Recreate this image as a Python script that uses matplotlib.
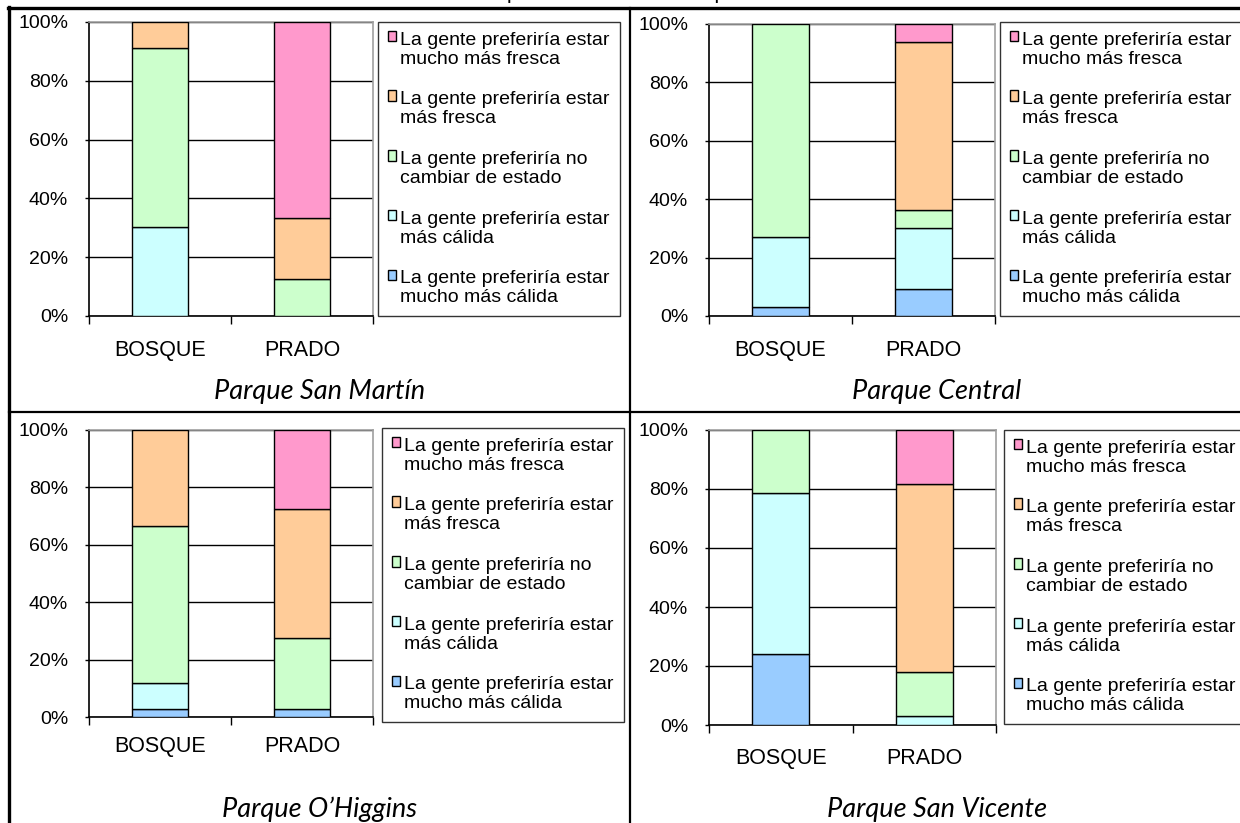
import matplotlib
matplotlib.use("Agg")
import matplotlib.pyplot as plt
from matplotlib.patches import Patch, Rectangle
from matplotlib.lines import Line2D
from matplotlib.legend_handler import HandlerPatch
import numpy as np

plt.rcParams['font.family'] = ['Liberation Sans', 'DejaVu Sans']

W, H = 1240, 823

categories = ["BOSQUE", "PRADO"]

series_labels = [
    "La gente preferiría estar\nmucho más cálida",
    "La gente preferiría estar\nmás cálida",
    "La gente preferiría no\ncambiar de estado",
    "La gente preferiría estar\nmás fresca",
    "La gente preferiría estar\nmucho más fresca",
]
series_colors = ["#99CCFF", "#CCFFFF", "#CCFFCC", "#FFCC99", "#FF99CC"]

park_names = ["Parque San Martín", "Parque Central", "Parque O\u2019Higgins", "Parque San Vicente"]

# Percentages per series, [BOSQUE, PRADO]
san_martin_mucho_calida = [0.0, 0.0]
san_martin_calida = [30.4, 0.0]
san_martin_neutral = [60.9, 12.5]
san_martin_fresca = [8.7, 20.8]
san_martin_mucho_fresca = [0.0, 66.7]

central_mucho_calida = [3.0, 9.1]
central_calida = [24.2, 21.2]
central_neutral = [72.8, 6.1]
central_fresca = [0.0, 57.5]
central_mucho_fresca = [0.0, 6.1]

ohiggins_mucho_calida = [2.9, 2.9]
ohiggins_calida = [9.0, 0.0]
ohiggins_neutral = [54.6, 24.5]
ohiggins_fresca = [33.5, 45.2]
ohiggins_mucho_fresca = [0.0, 27.4]

san_vicente_mucho_calida = [24.0, 0.0]
san_vicente_calida = [54.8, 2.9]
san_vicente_neutral = [21.2, 15.1]
san_vicente_fresca = [0.0, 63.8]
san_vicente_mucho_fresca = [0.0, 18.2]

parks = [
    [san_martin_mucho_calida, san_martin_calida, san_martin_neutral, san_martin_fresca, san_martin_mucho_fresca],
    [central_mucho_calida, central_calida, central_neutral, central_fresca, central_mucho_fresca],
    [ohiggins_mucho_calida, ohiggins_calida, ohiggins_neutral, ohiggins_fresca, ohiggins_mucho_fresca],
    [san_vicente_mucho_calida, san_vicente_calida, san_vicente_neutral, san_vicente_fresca, san_vicente_mucho_fresca],
]

# Panel geometry in pixels: plot box (x0, y0, x1, y1), legend (left, top),
# category label y, title center (x, y)
panels = [
    dict(box=(89, 22, 373, 316), leg=(378, 22), cat_y=349, title=(320, 391)),
    dict(box=(709, 24, 995, 316), leg=(1000, 22), cat_y=349, title=(937, 391)),
    dict(box=(89, 430, 373, 717), leg=(382, 428), cat_y=745, title=(320, 809)),
    dict(box=(709, 430, 996, 725), leg=(1004, 430), cat_y=757, title=(937, 809)),
]

fig = plt.figure(figsize=(W / 100, H / 100), dpi=100)


def fx(x):
    return x / W


def fy(y):
    return 1 - y / H


tick_fs = 14
cat_fs = 15.5
leg_fs = 14
x = np.arange(len(categories))


def first_line_square(legend, orig_handle, xdescent, ydescent, width, height, fontsize):
    # square key aligned with the first line of a two-line label
    return Rectangle((-xdescent, -ydescent + 0.68 * fontsize), width, height)


for park, geo, name in zip(parks, panels, park_names):
    x0, y0, x1, y1 = geo["box"]
    ax = fig.add_axes([fx(x0), fy(y1), (x1 - x0) / W, (y1 - y0) / H])
    bottom = np.zeros(len(categories))
    for vals, color in zip(park, series_colors):
        vals = np.array(vals)
        mask = vals > 0
        ax.bar(x[mask], vals[mask], width=0.4, bottom=bottom[mask],
               color=color, edgecolor="black", linewidth=1.0, zorder=3)
        bottom = bottom + vals
    ax.set_xlim(-0.5, 1.5)
    ax.set_ylim(0, 100)
    ax.set_yticks(np.arange(0, 101, 20))
    ax.set_yticklabels([f"{v}%" for v in range(0, 101, 20)], fontsize=tick_fs)
    ax.yaxis.grid(True, color="black", linewidth=1.0, zorder=0)
    ax.set_axisbelow(True)
    ax.set_xticks([-0.5, 0.5, 1.5])
    ax.set_xticklabels([])
    ax.set_xticks(x, minor=True)
    ax.set_xticklabels(categories, minor=True, fontsize=cat_fs)
    ax.tick_params(axis="x", which="major", direction="out", length=6, width=1, color="black")
    ax.tick_params(axis="x", which="minor", length=0, pad=(geo["cat_y"] - y1) * 0.72 - 6.5)
    ax.tick_params(axis="y", direction="out", length=3, width=1, pad=12)
    for side in ("left", "bottom"):
        ax.spines[side].set_color("black")
        ax.spines[side].set_linewidth(1.2)
    for side in ("top", "right"):
        ax.spines[side].set_color("#A0A0A0")
        ax.spines[side].set_linewidth(1.2)

    handles = [Patch(facecolor=c, edgecolor="black", linewidth=1.0) for c in series_colors]
    leg = ax.legend(handles[::-1], series_labels[::-1], loc="upper left",
                    bbox_to_anchor=(fx(geo["leg"][0]), fy(geo["leg"][1])),
                    bbox_transform=fig.transFigure, borderaxespad=0,
                    fontsize=leg_fs, frameon=True, fancybox=False, shadow=False,
                    handlelength=0.45, handleheight=0.45, handletextpad=0.2,
                    labelspacing=1.22, borderpad=0.5,
                    handler_map={Patch: HandlerPatch(patch_func=first_line_square)})
    for t in leg.get_texts():
        t.set_linespacing(1.15)
    leg.get_frame().set_edgecolor("black")
    leg.get_frame().set_linewidth(1.0)

    fig.text(fx(geo["title"][0]), fy(geo["title"][1]), name, ha="center", va="center",
             fontsize=19.5, fontstyle="italic", family=["Lato", "DejaVu Sans"])

# Table frame around the four panels
frame = dict(color="black", transform=fig.transFigure, clip_on=False)
fig.add_artist(Line2D([fx(8), 1], [fy(8), fy(8)], linewidth=2.4, **frame))
fig.add_artist(Line2D([fx(9), fx(9)], [fy(7), 0], linewidth=2.4, **frame))
fig.add_artist(Line2D([fx(630), fx(630)], [fy(8), 0], linewidth=1.6, **frame))
fig.add_artist(Line2D([fx(9), 1], [fy(412), fy(412)], linewidth=1.6, **frame))

# Caption line above the table
fig.text(fx(625), fy(-1), "prado como en el bosque", ha="center", va="baseline", fontsize=15)

fig.savefig("out.png", dpi=100)
